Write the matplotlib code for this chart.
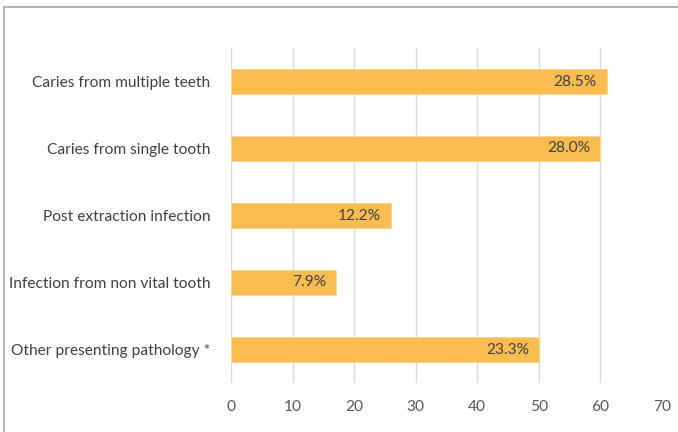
import matplotlib
matplotlib.use("Agg")
import matplotlib.pyplot as plt
from matplotlib.lines import Line2D

categories = ["Caries from multiple teeth", "Caries from single tooth",
              "Post extraction infection", "Infection from non vital tooth",
              "Other presenting pathology *"]
values = [61, 60, 26, 17, 50]
labels = ["28.5%", "28.0%", "12.2%", "7.9%", "23.3%"]
xticks = [0, 10, 20, 30, 40, 50, 60, 70]

plt.rcParams['font.family'] = ['Lato', 'DejaVu Sans']

fig = plt.figure(figsize=(6.78, 4.32), dpi=100)
ax = fig.add_axes([231/678, 49/432, 431/678, 335/432])

ypos = list(range(len(categories)))[::-1]
ax.barh(ypos, values, height=0.36, color="#F9BC51", edgecolor="#FCD48E", linewidth=0.6, zorder=3)
for y, v, l in zip(ypos, values, labels):
    ax.text(v - 1.6, y, l, ha="right", va="center", fontsize=11.2, color="#404040", zorder=4)

ax.set_xlim(0, 70)
ax.set_ylim(-0.5, len(categories) - 0.5)
ax.set_xticks(xticks)
ax.set_xticklabels([str(t) for t in xticks])
ax.set_yticks(ypos)
ax.set_yticklabels(categories)
ax.tick_params(axis="x", length=0, pad=12, labelsize=11.2, labelcolor="#595959")
ax.tick_params(axis="y", length=0, pad=15, labelsize=11.2, labelcolor="#404040")
ax.grid(axis="x", color="#D9D9D9", linewidth=1.0, zorder=0)
for s in ax.spines.values():
    s.set_visible(False)

fig.add_artist(Line2D([3.5/678, 1.0], [1 - 7/432, 1 - 7/432], color="#A6A6A6", linewidth=1.2))
fig.add_artist(Line2D([3.5/678, 3.5/678], [0, 1 - 7/432], color="#A6A6A6", linewidth=1.2))

fig.savefig("out.png", dpi=100)
